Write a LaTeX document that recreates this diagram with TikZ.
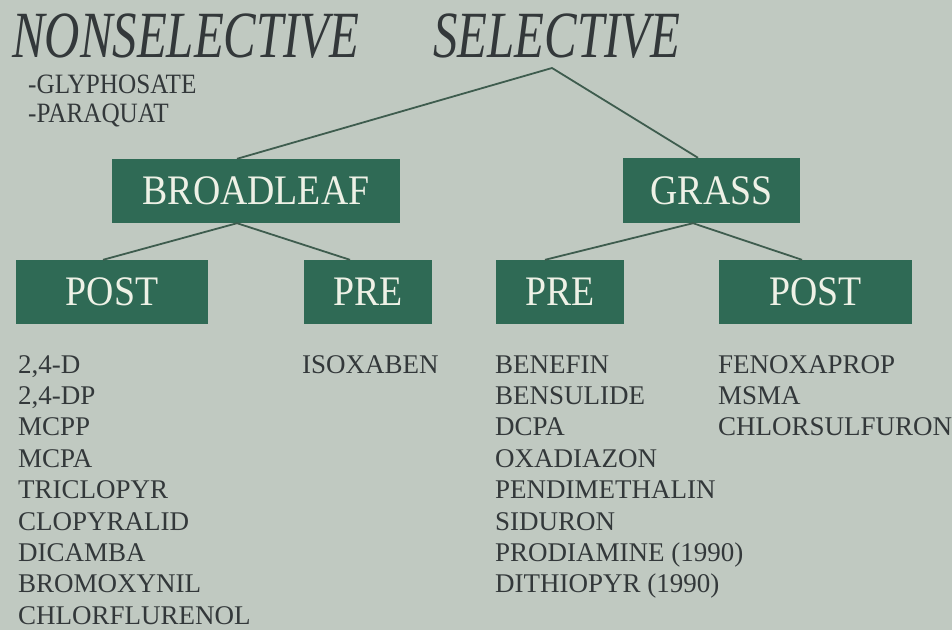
\documentclass[tikz,border=0pt]{standalone}
\usepackage{fontspec}
\setmainfont{Liberation Serif}
\usepackage{graphicx}
\definecolor{bgc}{HTML}{C0C9C1}
\definecolor{boxc}{HTML}{2F6A55}
\definecolor{boxtxt}{HTML}{EEF1E6}
\definecolor{inkc}{HTML}{33383A}
\definecolor{linec}{HTML}{3E5C4E}
\tikzset{
  gbox/.style={fill=boxc, draw=none, inner sep=0pt, text=boxtxt,
    font=\fontsize{42}{42}\selectfont},
  conn/.style={draw=linec, line width=1.8pt},
  title/.style={anchor=base west, inner sep=0pt, text=inkc,
    font=\fontsize{66}{66}\selectfont\itshape},
  item/.style={anchor=base west, inner sep=0pt, text=inkc,
    font=\fontsize{27}{27}\selectfont},
  sub/.style={anchor=base west, inner sep=0pt, text=inkc,
    font=\fontsize{28}{28}\selectfont}
}
\newcommand{\cond}[2]{\scalebox{#1}[1]{#2}}
\begin{document}
\begin{tikzpicture}[x=1pt,y=-1pt]
\fill[bgc] (0,0) rectangle (952,630);
\useasboundingbox (0,0) rectangle (952,630);
% titles
\node[title] (nonsel) at (12,57) {\cond{0.74}{NONSELECTIVE}};
\node[title] (sel) at (433,57) {\cond{0.74}{SELECTIVE}};
\node[sub] (gly) at (28,93) {\cond{0.9}{-GLYPHOSATE}};
\node[sub] (para) at (28,122) {\cond{0.9}{-PARAQUAT}};
\coordinate (apex) at (552,68);
% boxes
\node[gbox, minimum width=288pt, minimum height=64pt] (broad) at (256,191) {\cond{0.9}{BROADLEAF}};
\node[gbox, minimum width=177pt, minimum height=65pt] (grass) at (711.5,190.5) {\cond{0.9}{GRASS}};
\node[gbox, minimum width=192pt, minimum height=64pt] (postL) at (112,292) {\cond{0.9}{POST}};
\node[gbox, minimum width=128pt, minimum height=64pt] (preL) at (368,292) {\cond{0.9}{PRE}};
\node[gbox, minimum width=128pt, minimum height=64pt] (preR) at (560,292) {\cond{0.9}{PRE}};
\node[gbox, minimum width=193pt, minimum height=64pt] (postR) at (815.5,292) {\cond{0.9}{POST}};
% connectors
\draw[conn] ([xshift=-19pt]broad.north) -- (apex) -- ([xshift=-13.5pt]grass.north);
\draw[conn] ([xshift=-9pt]postL.north) -- ([xshift=-19pt]broad.south) -- ([xshift=-18pt]preL.north);
\draw[conn] ([xshift=-15pt]preR.north) -- ([xshift=-18.5pt]grass.south) -- ([xshift=-13.5pt]postR.north);
% lists
\foreach \t [count=\i] in {2{,}4-D, 2{,}4-DP, MCPP, MCPA, TRICLOPYR, CLOPYRALID, DICAMBA, BROMOXYNIL, CHLORFLURENOL}
  \node[item] (a\i) at (18,{373+31.4*(\i-1)}) {\t};
\node[item] (b1) at (302,373) {ISOXABEN};
\foreach \t [count=\i] in {BENEFIN, BENSULIDE, DCPA, OXADIAZON, PENDIMETHALIN, SIDURON, PRODIAMINE (1990), DITHIOPYR (1990)}
  \node[item] (c\i) at (495,{373+31.4*(\i-1)}) {\t};
\foreach \t [count=\i] in {FENOXAPROP, MSMA, CHLORSULFURON}
  \node[item] (d\i) at (718,{373+31.4*(\i-1)}) {\t};
\end{tikzpicture}
\end{document}
